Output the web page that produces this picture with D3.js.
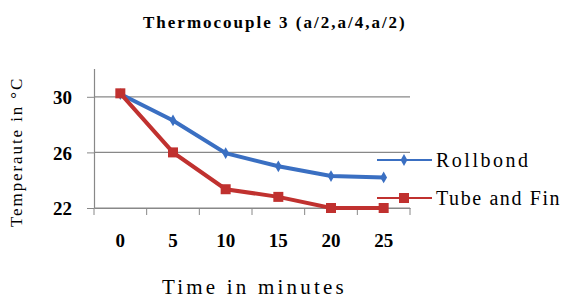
<!DOCTYPE html>
<html>
<head>
<meta charset="utf-8">
<script src="https://cdn.jsdelivr.net/npm/d3@7"></script>
</head>
<body style="margin:0">
<div id="chart"></div>
<script>
var categories = ["0", "5", "10", "15", "20", "25"];
var rollbond = [30.2, 28.3, 25.95, 25.0, 24.3, 24.2];
var tubeFin = [30.25, 26.0, 23.35, 22.8, 22.0, 22.0];
var yTicks = [22, 26, 30];

var fam = "'Liberation Serif', serif";
var margin = {top: 69, left: 94},
    width = 316,
    height = 139;

var svg = d3.select("#chart").append("svg")
    .attr("width", 563)
    .attr("height", 300);

var g = svg.append("g")
    .attr("transform", "translate(" + margin.left + "," + margin.top + ")");

var x = d3.scaleBand().domain(categories).range([0, width]);
var y = d3.scaleLinear().domain([22, 32]).range([height, 0]);

// gridlines
g.selectAll(".grid")
    .data(yTicks)
    .enter().append("line")
    .attr("x1", 0).attr("x2", width)
    .attr("y1", function (d) { return y(d); })
    .attr("y2", function (d) { return y(d); })
    .attr("stroke", "#888").attr("stroke-width", 1.2);

// y axis
var yAxis = g.append("g")
    .call(d3.axisLeft(y).tickValues(yTicks).tickSize(7).tickPadding(15))
    .attr("font-family", fam).attr("font-size", 19).attr("font-weight", "bold");
yAxis.select(".domain").attr("stroke", "#888").attr("stroke-width", 1.2)
    .attr("d", "M0.5," + y(32) + "V" + height);
yAxis.selectAll(".tick line").attr("stroke", "#888");
yAxis.selectAll(".tick text").attr("dy", "0.36em").attr("fill", "#000");

// x axis
var xAxis = g.append("g")
    .attr("transform", "translate(0," + height + ")")
    .call(d3.axisBottom(x).tickSize(0).tickPadding(26))
    .attr("font-family", fam).attr("font-size", 19).attr("font-weight", "bold");
xAxis.select(".domain").attr("stroke", "#888").attr("stroke-width", 1.2);
xAxis.selectAll(".tick text").attr("fill", "#000");
// category boundary ticks
xAxis.selectAll(".bound")
    .data(d3.range(categories.length + 1))
    .enter().append("line")
    .attr("x1", function (i) { return i * x.step(); })
    .attr("x2", function (i) { return i * x.step(); })
    .attr("y1", 0).attr("y2", 7)
    .attr("stroke", "#888");

var cx = function (d, i) { return x(categories[i]) + x.bandwidth() / 2; };

var line = d3.line()
    .x(function (d, i) { return cx(d, i); })
    .y(function (d) { return y(d); });

var blue = "#3a6fc2", red = "#c0312f";

g.append("path").datum(rollbond)
    .attr("d", line).attr("fill", "none")
    .attr("stroke", blue).attr("stroke-width", 4);
g.append("path").datum(tubeFin)
    .attr("d", line).attr("fill", "none")
    .attr("stroke", red).attr("stroke-width", 4);

var diamond = d3.symbol().type(d3.symbolDiamond).size(40);
g.selectAll(".rb")
    .data(rollbond)
    .enter().append("path")
    .attr("d", diamond)
    .attr("transform", function (d, i) { return "translate(" + cx(d, i) + "," + y(d) + ")"; })
    .attr("fill", blue);

g.selectAll(".tf")
    .data(tubeFin)
    .enter().append("rect")
    .attr("x", function (d, i) { return cx(d, i) - 5; })
    .attr("y", function (d) { return y(d) - 5; })
    .attr("width", 10).attr("height", 10)
    .attr("fill", red);

// legend
var legend = svg.append("g").attr("font-family", fam).attr("font-size", 20);
legend.append("line").attr("x1", 377).attr("x2", 432).attr("y1", 160).attr("y2", 160)
    .attr("stroke", blue).attr("stroke-width", 2);
legend.append("path").attr("d", diamond)
    .attr("transform", "translate(404,160)").attr("fill", blue);
legend.append("text").attr("x", 436).attr("y", 167)
    .attr("letter-spacing", 2.5)
    .text("Rollbond");

legend.append("line").attr("x1", 377).attr("x2", 432).attr("y1", 198).attr("y2", 198)
    .attr("stroke", red).attr("stroke-width", 2);
legend.append("rect").attr("x", 399).attr("y", 193).attr("width", 10).attr("height", 10)
    .attr("fill", red);
legend.append("text").attr("x", 436).attr("y", 205)
    .attr("letter-spacing", 1.6)
    .text("Tube and Fin");

// title
svg.append("text")
    .attr("x", 143).attr("y", 28)
    .attr("font-family", fam).attr("font-size", 17).attr("font-weight", "bold")
    .attr("letter-spacing", 2)
    .text("Thermocouple 3 (a/2,a/4,a/2)");

// axis titles
svg.append("text")
    .attr("transform", "rotate(-90)")
    .attr("x", -227).attr("y", 22)
    .attr("font-family", fam).attr("font-size", 17)
    .attr("letter-spacing", 1.9)
    .text("Temperaute in °C");

svg.append("text")
    .attr("x", 162).attr("y", 294)
    .attr("font-family", fam).attr("font-size", 21)
    .attr("letter-spacing", 3.2)
    .text("Time in minutes");
</script>
</body>
</html>
